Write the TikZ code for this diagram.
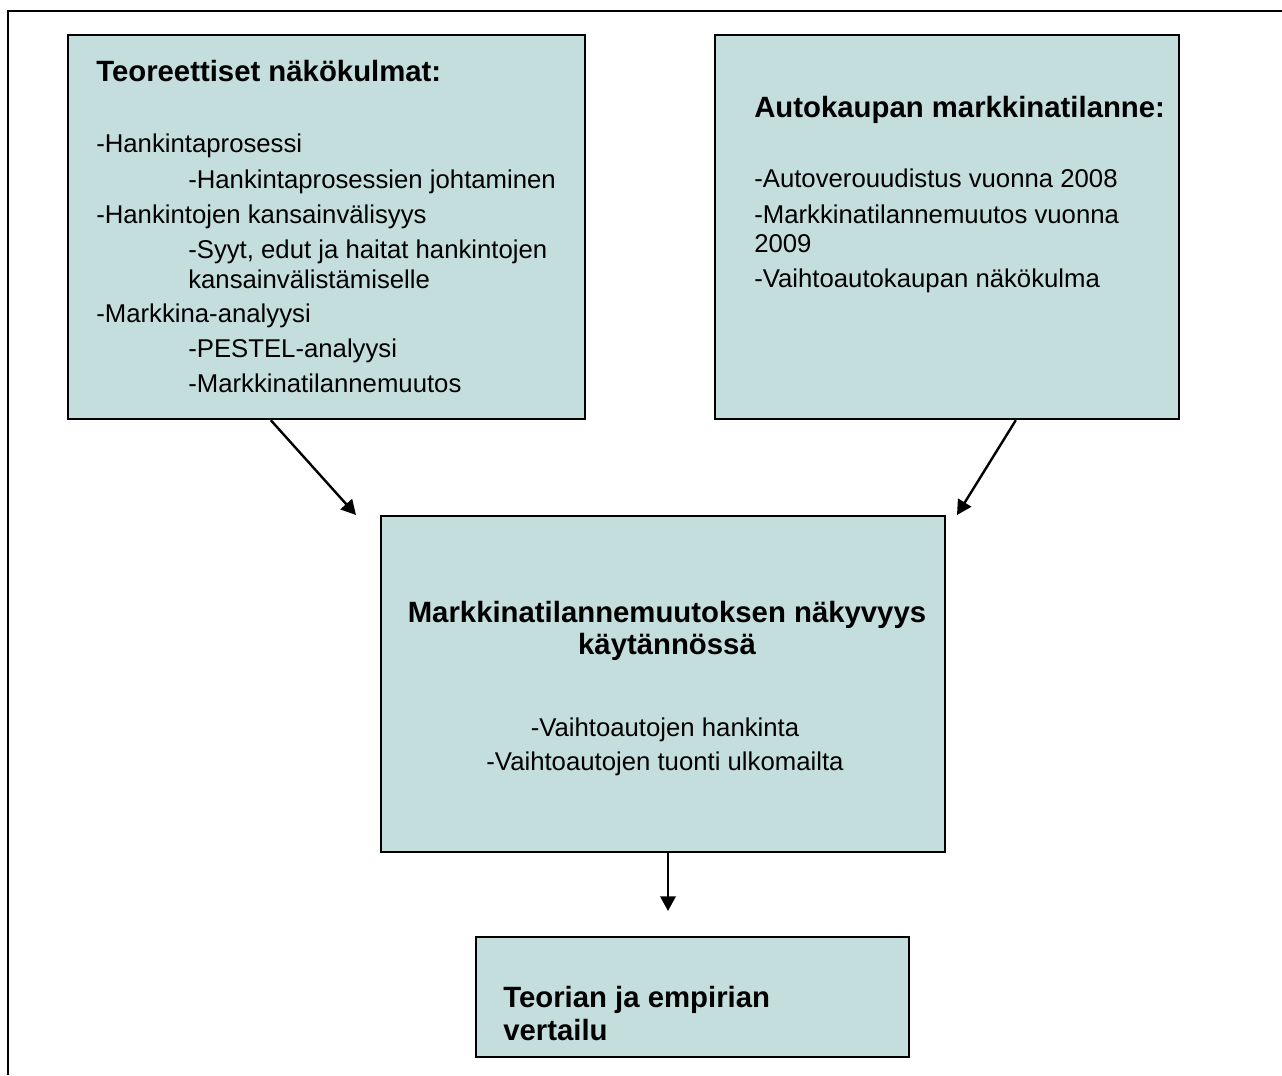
\documentclass[tikz,border=0pt]{standalone}
\usepackage{fontspec}
\setmainfont{Liberation Sans}
\usetikzlibrary{arrows.meta,calc}
\definecolor{boxfill}{RGB}{196,222,222}
\begin{document}
\begin{tikzpicture}[x=0.75pt,y=-0.75pt,
  box/.style={draw=black, fill=boxfill, line width=1.8pt, rectangle, inner sep=0pt},
  ttl/.style={anchor=base west, inner sep=0pt, font=\fontsize{22}{26}\selectfont\bfseries},
  ttlc/.style={anchor=base, inner sep=0pt, font=\fontsize{22}{26}\selectfont\bfseries},
  itm/.style={anchor=base west, inner sep=0pt, font=\fontsize{19.3}{23}\selectfont},
  itmc/.style={anchor=base, inner sep=0pt, font=\fontsize{19.3}{23}\selectfont},
  conn/.style={line width=1.8pt, -{Triangle[length=11pt,width=11.5pt]}}]
\useasboundingbox (0,0) rectangle (1282,1075);
\fill[white] (0,0) rectangle (1282,1075);
% outer frame
\draw[line width=1.8pt] (8,1075) -- (8,11) -- (1282,11);
% boxes
\node[box, minimum width=387.75pt, minimum height=288pt] (b1) at (326.5,227) {};
\node[box, minimum width=348pt, minimum height=288pt] (b2) at (947,227) {};
\node[box, minimum width=423pt, minimum height=252pt] (b3) at (663,684) {};
\node[box, minimum width=324.75pt, minimum height=90pt] (b4) at (692.5,997) {};
% box 1 text
\node[ttl] (t1a) at (96,81) {Teoreettiset näkökulmat:};
\node[itm] (t1b) at (96,152) {-Hankintaprosessi};
\node[itm] (t1c) at (188,188) {-Hankintaprosessien johtaminen};
\node[itm] (t1d) at (96,223) {-Hankintojen kansainvälisyys};
\node[itm] (t1e) at (188,258) {-Syyt, edut ja haitat hankintojen};
\node[itm] (t1f) at (188,288) {kansainvälistämiselle};
\node[itm] (t1g) at (96,322) {-Markkina-analyysi};
\node[itm] (t1h) at (188,357) {-PESTEL-analyysi};
\node[itm] (t1i) at (188,392) {-Markkinatilannemuutos};
% box 2 text
\node[ttl] (t2a) at (754,117) {Autokaupan markkinatilanne:};
\node[itm] (t2b) at (754,187) {-Autoverouudistus vuonna 2008};
\node[itm] (t2c) at (754,223) {-Markkinatilannemuutos vuonna};
\node[itm] (t2d) at (754,252) {2009};
\node[itm] (t2e) at (754,287) {-Vaihtoautokaupan näkökulma};
% box 3 text
\node[ttlc] (t3a) at (667,622) {Markkinatilannemuutoksen näkyvyys};
\node[ttlc] (t3b) at (667,654) {käytännössä};
\node[itmc] (t3c) at (665,736) {-Vaihtoautojen hankinta};
\node[itmc] (t3d) at (665,770) {-Vaihtoautojen tuonti ulkomailta};
% box 4 text
\node[ttl] (t4a) at (503,1007) {Teorian ja empirian};
\node[ttl] (t4b) at (503,1040) {vertailu};
% connectors
\coordinate (p1) at (356,515);
\coordinate (p2) at (957,515);
\coordinate (p3) at (668,911);
\draw[conn] ($(b1.south west)+(204,0)$) -- (p1);
\draw[conn] ($(b2.south west)+(302,0)$) -- (p2);
\draw[conn] ($(b3.south)+(5,0)$) -- (p3);
\end{tikzpicture}
\end{document}
